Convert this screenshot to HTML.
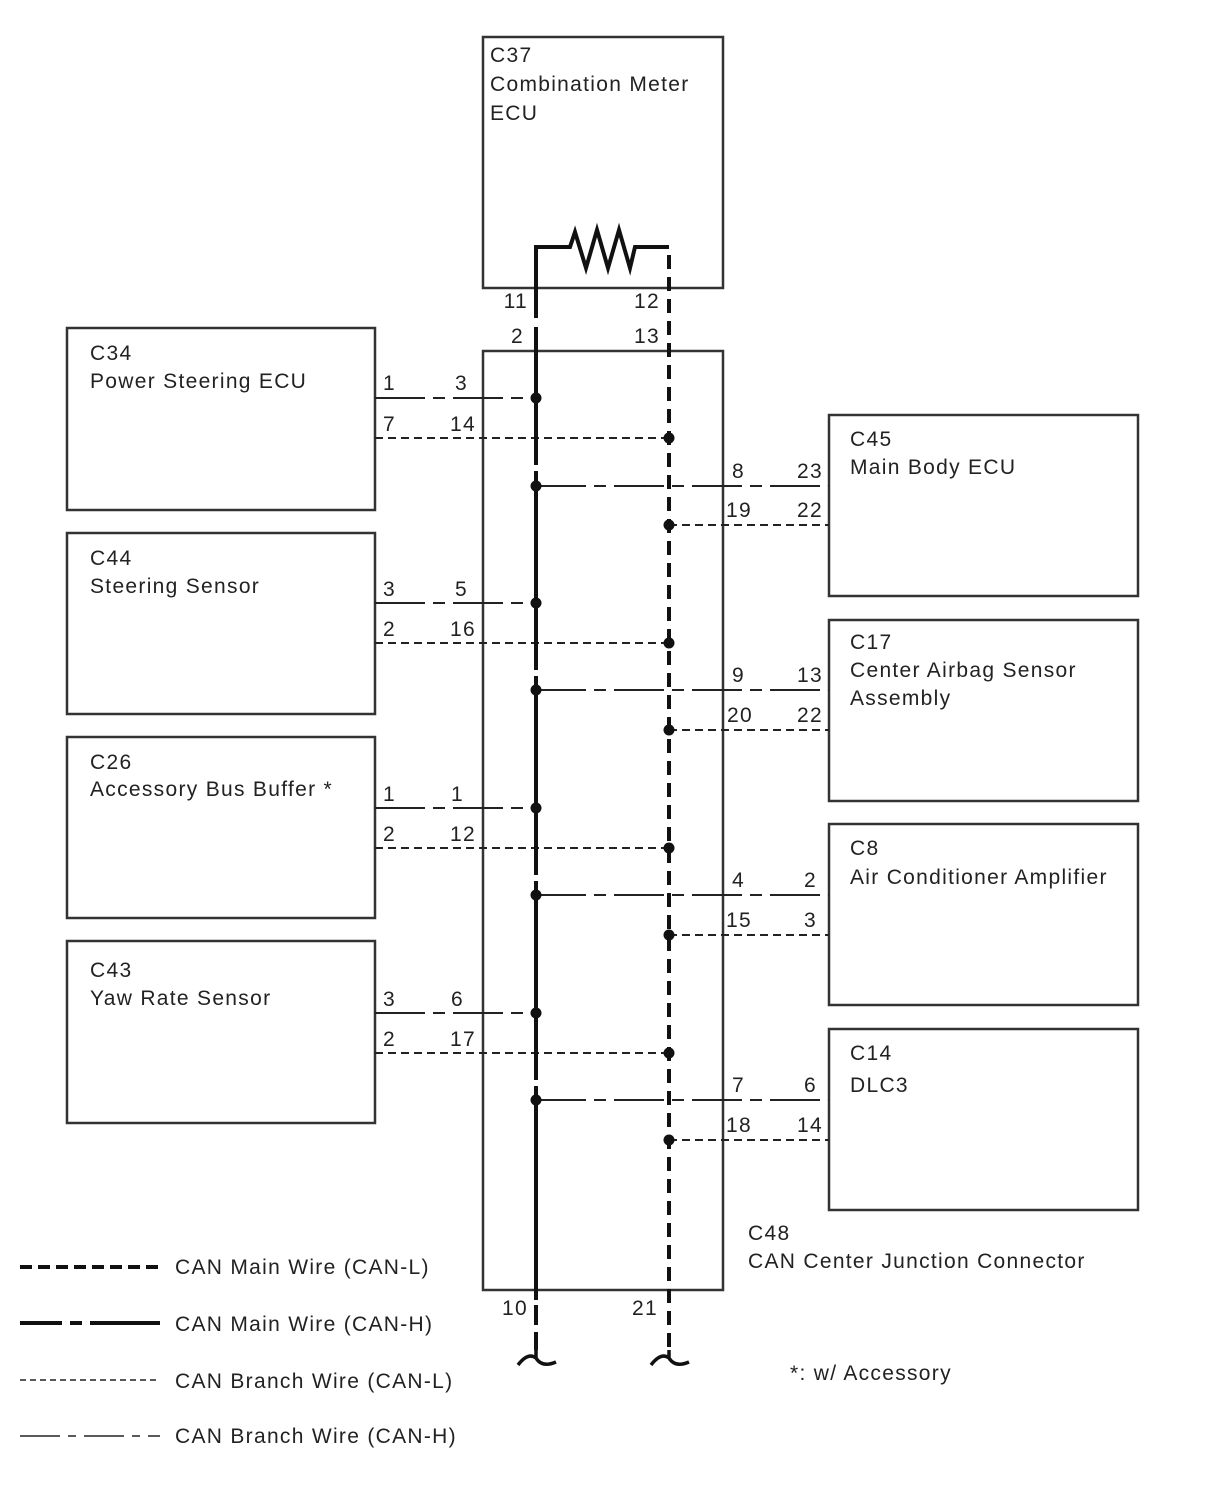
<!DOCTYPE html>
<html><head><meta charset="utf-8"><style>
html,body{margin:0;padding:0;background:#fff;}
svg{display:block;}
text{font-family:"Liberation Sans",sans-serif;font-size:21px;letter-spacing:1.3px;fill:#222;}
</style></head><body>
<svg width="1210" height="1498" viewBox="0 0 1210 1498" xmlns="http://www.w3.org/2000/svg">
<g fill="none" stroke="#333" stroke-width="2.5">
<rect x="483" y="37" width="240" height="251"/>
<rect x="483" y="351" width="240" height="939"/>
<rect x="67" y="328" width="308" height="182"/>
<rect x="67" y="533" width="308" height="181"/>
<rect x="67" y="737" width="308" height="181"/>
<rect x="67" y="941" width="308" height="182"/>
<rect x="829" y="415" width="309" height="181"/>
<rect x="829" y="620" width="309" height="181"/>
<rect x="829" y="824" width="309" height="181"/>
<rect x="829" y="1029" width="309" height="181"/>
</g>
<g stroke="#222" stroke-width="2" fill="none" stroke-dasharray="50 8 12 8">
<line x1="375" y1="398" x2="536" y2="398"/>
<line x1="375" y1="603" x2="536" y2="603"/>
<line x1="375" y1="808" x2="536" y2="808"/>
<line x1="375" y1="1013" x2="536" y2="1013"/>
<line x1="536" y1="486" x2="829" y2="486"/>
<line x1="536" y1="690" x2="829" y2="690"/>
<line x1="536" y1="895" x2="829" y2="895"/>
<line x1="536" y1="1100" x2="829" y2="1100"/>
</g>
<g stroke="#222" stroke-width="2" fill="none" stroke-dasharray="8 5">
<line x1="375" y1="438" x2="669" y2="438"/>
<line x1="375" y1="643" x2="669" y2="643"/>
<line x1="375" y1="848" x2="669" y2="848"/>
<line x1="375" y1="1053" x2="669" y2="1053"/>
<line x1="669" y1="525" x2="829" y2="525"/>
<line x1="669" y1="730" x2="829" y2="730"/>
<line x1="669" y1="935" x2="829" y2="935"/>
<line x1="669" y1="1140" x2="829" y2="1140"/>
</g>
<polyline points="536,1350 536,247 570,247 575,232 586,268 597,230 608,268 619,230 630,268 635,247 669,247" fill="none" stroke="#111" stroke-width="4"/>
<g stroke="#fff" stroke-width="6">
<line x1="536" y1="318" x2="536" y2="327"/>
<line x1="536" y1="465" x2="536" y2="471"/>
<line x1="536" y1="670" x2="536" y2="676"/>
<line x1="536" y1="875" x2="536" y2="881"/>
<line x1="536" y1="1080" x2="536" y2="1086"/>
<line x1="536" y1="1300" x2="536" y2="1305"/>
<line x1="536" y1="1325" x2="536" y2="1332"/>
</g>
<line x1="669" y1="255" x2="669" y2="1350" stroke="#111" stroke-width="4" stroke-dasharray="14 8"/>
<path d="M518 1365 Q528 1352 536 1358 L536 1350 M536 1358 Q542 1368 556 1362" fill="none" stroke="#111" stroke-width="3.5"/>
<path d="M651 1365 Q661 1352 669 1358 L669 1350 M669 1358 Q675 1368 689 1362" fill="none" stroke="#111" stroke-width="3.5"/>
<g fill="#111">
<circle cx="536" cy="398" r="5.5"/><circle cx="536" cy="603" r="5.5"/><circle cx="536" cy="808" r="5.5"/><circle cx="536" cy="1013" r="5.5"/>
<circle cx="536" cy="486" r="5.5"/><circle cx="536" cy="690" r="5.5"/><circle cx="536" cy="895" r="5.5"/><circle cx="536" cy="1100" r="5.5"/>
<circle cx="669" cy="438" r="5.5"/><circle cx="669" cy="643" r="5.5"/><circle cx="669" cy="848" r="5.5"/><circle cx="669" cy="1053" r="5.5"/>
<circle cx="669" cy="525" r="5.5"/><circle cx="669" cy="730" r="5.5"/><circle cx="669" cy="935" r="5.5"/><circle cx="669" cy="1140" r="5.5"/>
</g>
<text x="490" y="62">C37</text><text x="490" y="91">Combination Meter</text><text x="490" y="120">ECU</text>
<text x="90" y="360">C34</text><text x="90" y="388">Power Steering ECU</text>
<text x="90" y="565">C44</text><text x="90" y="593">Steering Sensor</text>
<text x="90" y="769">C26</text><text x="90" y="796">Accessory Bus Buffer *</text>
<text x="90" y="977">C43</text><text x="90" y="1005">Yaw Rate Sensor</text>
<text x="850" y="446">C45</text><text x="850" y="474">Main Body ECU</text>
<text x="850" y="649">C17</text><text x="850" y="677">Center Airbag Sensor</text><text x="850" y="705">Assembly</text>
<text x="850" y="855">C8</text><text x="850" y="884">Air Conditioner Amplifier</text>
<text x="850" y="1060">C14</text><text x="850" y="1092">DLC3</text>
<text x="748" y="1240">C48</text><text x="748" y="1268">CAN Center Junction Connector</text>
<text x="790" y="1380">*: w/ Accessory</text>
<g text-anchor="end">
<text x="528" y="308">11</text><text x="660" y="308">12</text>
<text x="524" y="343">2</text><text x="660" y="343">13</text>
<text x="528" y="1315">10</text><text x="658" y="1315">21</text>
<text x="396" y="390">1</text><text x="468" y="390">3</text>
<text x="396" y="431">7</text><text x="476" y="431">14</text>
<text x="396" y="596">3</text><text x="468" y="596">5</text>
<text x="396" y="636">2</text><text x="476" y="636">16</text>
<text x="396" y="801">1</text><text x="464" y="801">1</text>
<text x="396" y="841">2</text><text x="476" y="841">12</text>
<text x="396" y="1006">3</text><text x="464" y="1006">6</text>
<text x="396" y="1046">2</text><text x="476" y="1046">17</text>
<text x="745" y="478">8</text><text x="823" y="478">23</text>
<text x="752" y="517">19</text><text x="823" y="517">22</text>
<text x="745" y="682">9</text><text x="823" y="682">13</text>
<text x="753" y="722">20</text><text x="823" y="722">22</text>
<text x="745" y="887">4</text><text x="817" y="887">2</text>
<text x="752" y="927">15</text><text x="817" y="927">3</text>
<text x="745" y="1092">7</text><text x="817" y="1092">6</text>
<text x="752" y="1132">18</text><text x="823" y="1132">14</text>
</g>
<line x1="20" y1="1267" x2="160" y2="1267" stroke="#111" stroke-width="4" stroke-dasharray="12 6"/>
<path d="M20 1323 H62 M70 1323 H82 M90 1323 H160" stroke="#111" stroke-width="4"/>
<line x1="20" y1="1380" x2="160" y2="1380" stroke="#222" stroke-width="1.5" stroke-dasharray="6 4"/>
<path d="M20 1436 H60 M68 1436 H76 M84 1436 H124 M132 1436 H140 M148 1436 H160" stroke="#222" stroke-width="1.5"/>
<text x="175" y="1274">CAN Main Wire (CAN-L)</text>
<text x="175" y="1331">CAN Main Wire (CAN-H)</text>
<text x="175" y="1388">CAN Branch Wire (CAN-L)</text>
<text x="175" y="1443">CAN Branch Wire (CAN-H)</text>
</svg>
</body></html>
